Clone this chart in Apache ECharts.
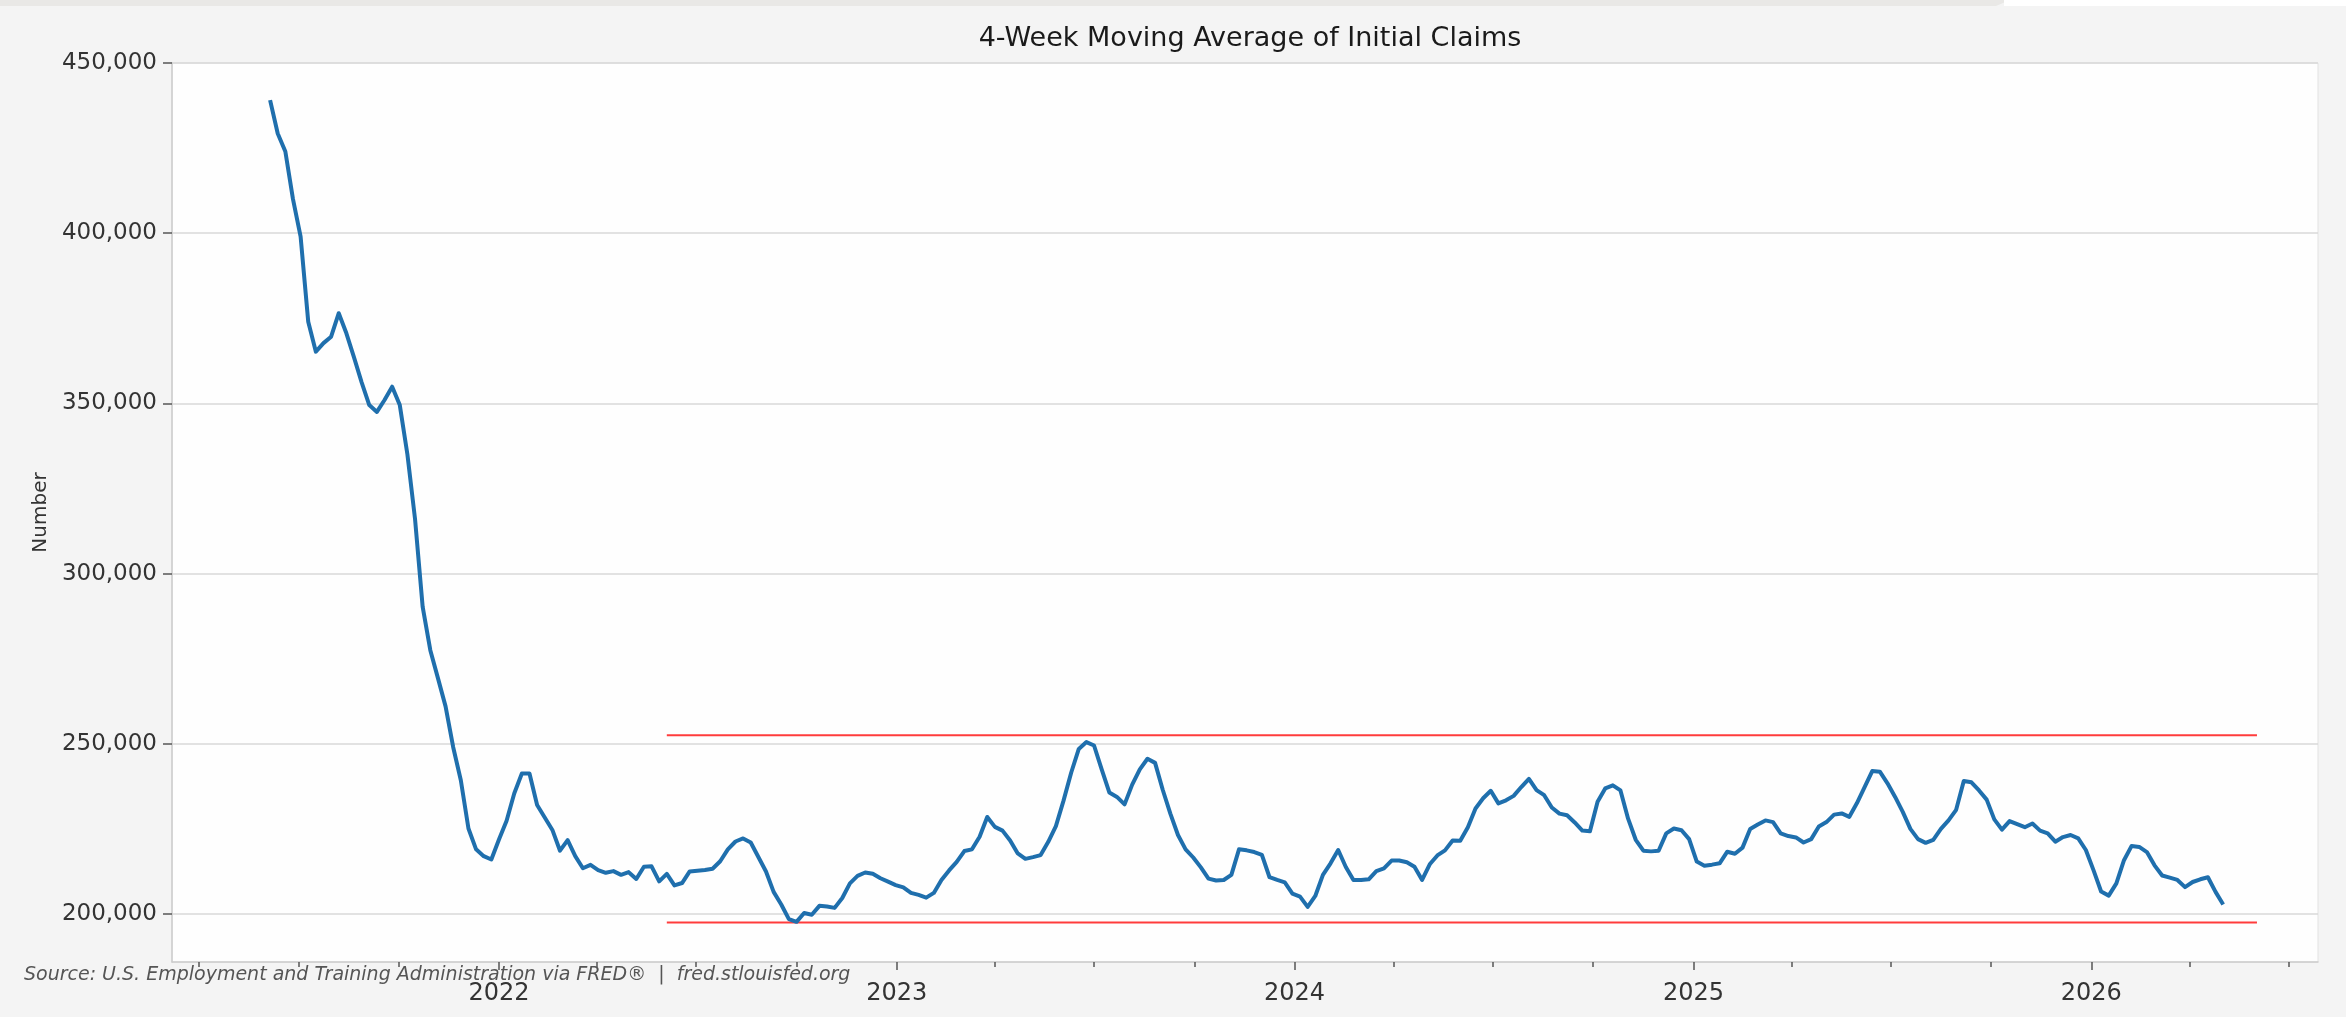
<!DOCTYPE html>
<html><head><meta charset="utf-8">
<script src="https://cdn.jsdelivr.net/npm/echarts@6/dist/echarts.min.js"></script>
<style>html,body{margin:0;padding:0;background:#f4f4f4;}#c{width:2346px;height:1017px;}</style>
</head><body><div id="c"></div>
<script>
const chartTitle = '4-Week Moving Average of Initial Claims';
const yAxisName = 'Number';
const sourceNote = 'Source: U.S. Employment and Training Administration via FRED\u00AE  |  fred.stlouisfed.org';
// weekly observations, week ending Saturdays, first one:
const firstWeek = '2021-06-05';
const claims4wk = [
439100,429300,424000,410000,399000,374000,365200,367700,369600,376500,
370600,363500,356200,349500,347500,351000,354900,349500,335000,316000,
290200,277500,269300,261000,249000,239300,225100,219000,217000,216000,
221900,227400,235400,241250,241250,232000,228350,224700,218600,221700,
217000,213450,214450,212900,212100,212600,211500,212300,210300,213900,
214000,209600,211800,208400,209100,212500,212700,212900,213300,215500,
219000,221300,222200,221000,216750,212500,206500,202800,198500,197700,
200300,199800,202400,202200,201800,204700,209000,211200,212200,211800,
210500,209500,208500,207800,206200,205600,204800,206200,210000,212800,
215300,218500,219000,222700,228500,225600,224500,221600,217800,216200,
216700,217300,221200,225800,233300,241500,248500,250500,249500,242500,
235700,234400,232200,238000,242500,245600,244400,236500,229500,223200,
219000,216600,213700,210400,209850,210000,211500,219000,218700,218200,
217400,210800,210000,209300,206000,205100,202100,205300,211500,214900,
218800,213800,210000,210000,210200,212600,213400,215700,215700,215200,
213900,210000,214600,217200,218700,221600,221500,225500,231000,234000,
236200,232500,233400,234700,237300,239700,236400,234900,231300,229500,
229000,226900,224500,224300,233000,236900,237800,236300,228000,221800,
218600,218400,218600,223700,225100,224600,222000,215400,214200,214500,
214900,218300,217700,219500,225000,226300,227500,227000,223700,222900,
222500,221000,222000,225700,227000,229200,229550,228550,232600,237300,
242000,241800,238400,234400,230000,225000,222000,220900,221800,225000,
227500,230600,239100,238700,236300,233600,227800,224800,227300,226400,
225500,226600,224500,223700,221250,222600,223200,222200,218800,212900,
206600,205400,209000,215800,220000,219700,218200,214300,211300,210700,
210000,207900,209400,210200,210800,206500,202800
];
const yTicks = [200000, 250000, 300000, 350000, 400000, 450000];
const yRange = [185900, 450000];
const xRange = ['2021-03-07', '2026-07-28'];
const yearTicks = ['2022-01-01','2023-01-01','2024-01-01','2025-01-01','2026-01-01'];
const quarterTicks = ['2021-04-01','2021-07-01','2021-10-01',
 '2022-04-01','2022-07-01','2022-10-01','2023-04-01','2023-07-01','2023-10-01',
 '2024-04-01','2024-07-01','2024-10-01','2025-04-01','2025-07-01','2025-10-01',
 '2026-04-01','2026-07-01'];
const bandDates = ['2022-06-04', '2026-06-02'];
const upperBand = [252500, 252500];
const lowerBand = [197500, 197500];

const ts = s => Date.parse(s + 'T00:00:00Z');
const WEEK = 7 * 86400000;
const lineData = claims4wk.map((v, i) => [ts(firstWeek) + i * WEEK, v]);
const upperData = bandDates.map((d, i) => [ts(d), upperBand[i]]);
const lowerData = bandDates.map((d, i) => [ts(d), lowerBand[i]]);

const FONT = 'DejaVu Sans';
const chart = echarts.init(document.getElementById('c'), null, {renderer: 'canvas'});
const xCommon = {
  type: 'value', gridIndex: 0, position: 'bottom',
  min: ts(xRange[0]), max: ts(xRange[1]), splitLine: {show: false}
};
chart.setOption({
  animation: false,
  backgroundColor: '#f4f4f4',
  title: {
    text: chartTitle, left: 1245, top: 20, textAlign: 'center',
    textStyle: {fontFamily: FONT, fontSize: 27, fontWeight: 'normal', color: '#1a1a1a'}
  },
  grid: {
    left: 172, right: 28, top: 63, bottom: 55, show: true,
    backgroundColor: '#fefefe', borderColor: '#e2e2e2', borderWidth: 1
  },
  xAxis: [
    Object.assign({}, xCommon, {
      axisLine: {show: true, lineStyle: {color: '#cccccc', width: 1.5}},
      axisTick: {show: true, length: 8, customValues: yearTicks.map(ts), lineStyle: {color: '#555', width: 1.5}},
      axisLabel: {show: true, customValues: yearTicks.map(ts), margin: 20,
        formatter: v => String(new Date(v).getUTCFullYear()),
        fontFamily: FONT, fontSize: 24, color: '#333'}
    }),
    Object.assign({}, xCommon, {
      axisLine: {show: false},
      axisTick: {show: true, length: 5, customValues: quarterTicks.map(ts), lineStyle: {color: '#555', width: 1.5}},
      axisLabel: {show: false}
    })
  ],
  yAxis: {
    type: 'value', min: yRange[0], max: yRange[1],
    minInterval: 50000, maxInterval: 50000,
    name: yAxisName, nameLocation: 'middle', nameGap: 118,
    nameTextStyle: {fontFamily: FONT, fontSize: 20, color: '#333'},
    axisLine: {show: true, lineStyle: {color: '#cccccc', width: 1.5}},
    axisTick: {show: true, length: 9, customValues: yTicks, lineStyle: {color: '#555', width: 1.5}},
    axisLabel: {customValues: yTicks, margin: 15, fontFamily: FONT, fontSize: 23, color: '#333',
      formatter: v => Number(v).toLocaleString('en-US')},
    splitLine: {show: true, lineStyle: {color: '#d8d8d8', width: 1.5}}
  },
  series: [
    {type: 'line', name: 'Upper', data: upperData, xAxisIndex: 0, showSymbol: false, silent: true,
      lineStyle: {color: '#ff3c3c', width: 2}, z: 3},
    {type: 'line', name: 'Lower', data: lowerData, xAxisIndex: 0, showSymbol: false, silent: true,
      lineStyle: {color: '#ff3c3c', width: 2}, z: 3},
    {type: 'line', name: '4-Week MA', data: lineData, xAxisIndex: 0, showSymbol: false,
      lineStyle: {color: '#1f6fad', width: 4, join: 'round'}, z: 4}
  ],
  graphic: [
    {type: 'polygon', shape: {points: [[0,0],[2010,0],[1996,6],[0,6]]}, style: {fill: '#e9e8e6'}, silent: true},
    {type: 'rect', shape: {x: 2004, y: 0, width: 342, height: 6}, style: {fill: '#ffffff'}, silent: true},
    {type: 'text', x: 24, y: 975, z: 10, style: {
      text: sourceNote, fontFamily: FONT, fontStyle: 'italic', fontSize: 19, fill: '#555',
      verticalAlign: 'middle', align: 'left'}}
  ]
});
</script></body></html>
